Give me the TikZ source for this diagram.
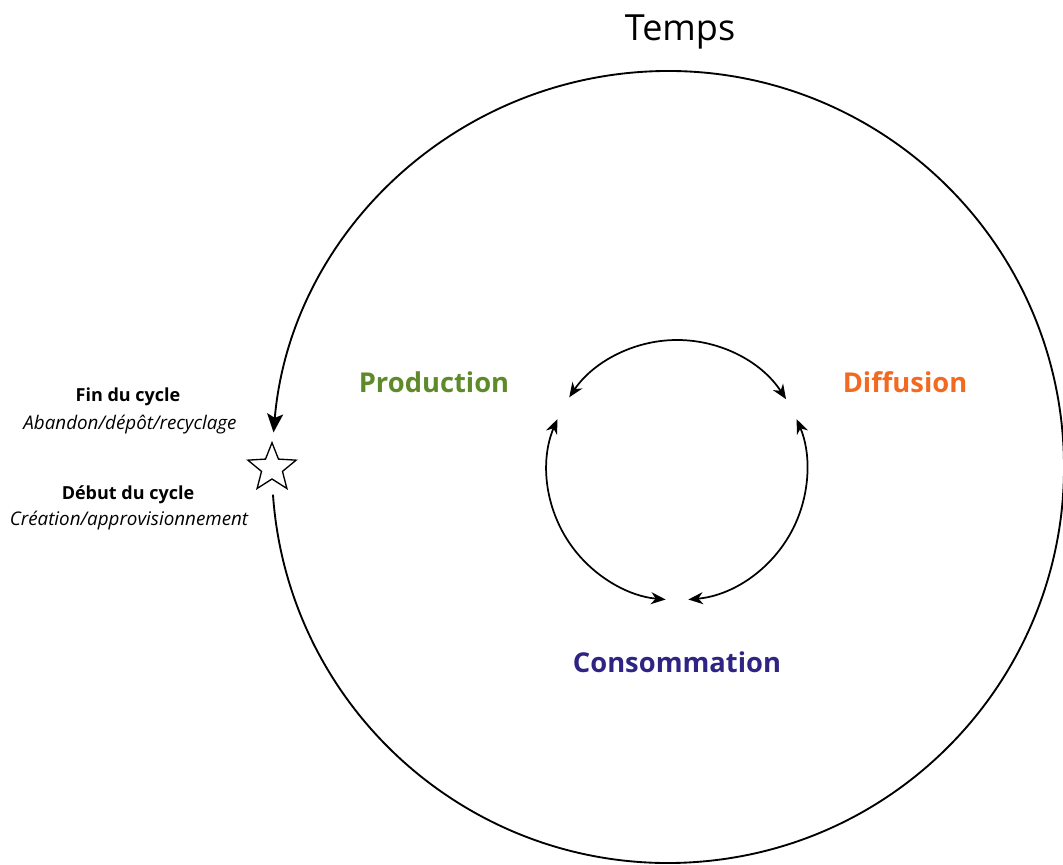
\documentclass[tikz,border=0pt]{standalone}
\usepackage{fontspec}
\setmainfont{Open Sans}
\usetikzlibrary{arrows.meta,shapes.geometric}
\definecolor{prodgreen}{RGB}{94,138,42}
\definecolor{difforange}{RGB}{242,106,33}
\definecolor{consopurple}{RGB}{46,36,131}
\tikzset{
	phase/.style={font=\fontsize{20.5}{24}\selectfont\bfseries},
	cyclehead/.style={font=\fontsize{13.5}{16}\selectfont\bfseries},
	cyclenote/.style={font=\fontsize{14.1}{16}\selectfont\itshape},
	flow/.style={line width=1.3pt, {Stealth[length=11pt,width=9pt,inset=3.5pt]}-{Stealth[length=11pt,width=9pt,inset=3.5pt]}},
}
\begin{document}
\begin{tikzpicture}[x=0.75pt, y=0.75pt]
	\useasboundingbox (0, 0) rectangle (1063, 864);
	\coordinate (big) at (668, 397);
	\coordinate (small) at (677, 394);
	% outer cycle
	\node at (680, 832) (temps) {\fontsize{27}{32}\selectfont Temps};
	\draw[line width=1.4pt, -{Stealth[length=14pt,width=12pt,inset=3pt]}] ([shift={(184:396)}]big) arc (184:535:396);
	\node[star, star points=5, star point ratio=2.3, draw, line width=1pt, minimum size=38pt, inner sep=0pt] at (272, 396) (star) {};
	\node[cyclehead] at (128, 467) (fin) {Fin du cycle};
	\node[cyclenote] at (130, 439) (finnote) {Abandon/dépôt/recyclage};
	\node[cyclehead] at (128, 369) (debut) {Début du cycle};
	\node[cyclenote] at (129, 343) (debutnote) {Création/approvisionnement};
	% inner cycle
	\draw[flow] ([shift={(33:130)}]small) arc (33:146:130);
	\draw[flow] ([shift={(157:130)}]small) arc (157:265:130);
	\draw[flow] ([shift={(275:130)}]small) arc (275:383:130);
	\node[phase, prodgreen] at (434, 482) (prod) {Production};
	\node[phase, difforange] at (905, 482) (diff) {Diffusion};
	\node[phase, consopurple] at (677, 202) (conso) {Consommation};
\end{tikzpicture}
\end{document}
